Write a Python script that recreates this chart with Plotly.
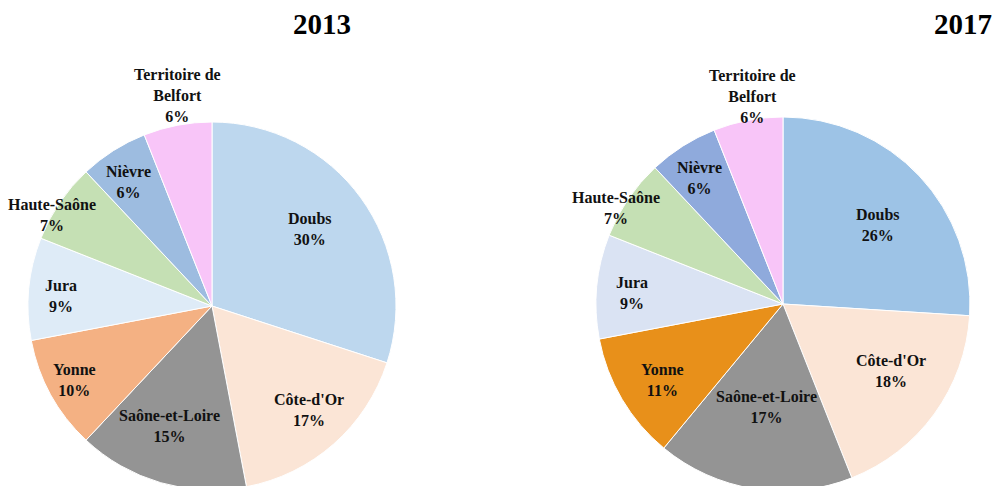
import math
import plotly.graph_objects as go

# ---- data ----
departements = ["Doubs", "Côte-d'Or", "Saône-et-Loire", "Yonne", "Jura",
                "Haute-Saône", "Nièvre", "Territoire de<br>Belfort"]
parts_2013 = [30, 17, 15, 10, 9, 7, 6, 6]
parts_2017 = [26, 18, 17, 11, 9, 7, 6, 6]
annees = ["2013", "2017"]

# ---- styles ----
colors_2013 = ["#BDD7EE", "#FBE5D6", "#949494", "#F4B183", "#DEEBF7",
               "#C5E0B4", "#9DBCE0", "#F8C5F8"]
colors_2017 = ["#9DC3E6", "#FBE5D6", "#949494", "#E8901A", "#DAE3F3",
               "#C5E0B4", "#8FAADC", "#F8C5F8"]
# label placement (fraction of radius, angular offset in degrees)
label_r_2013 = [0.68, 0.77, 0.69, 0.85, 0.82, 1.0, 0.81, 1.16]
label_a_2013 = [-2.2, -1.6, 3.2, 0.6, -1.6, -4.4, -1.6, 1.6]
label_r_2017 = [0.66, 0.68, 0.56, 0.76, 0.81, 1.03, 0.81, 1.12]
label_a_2017 = [3.2, -4.0, 0.0, -1.5, -1.4, -4.2, -1.1, 2.3]

W, H = 1000, 495
pies = [
    dict(vals=parts_2013, cols=colors_2013, lr=label_r_2013, la=label_a_2013,
         cx=212, cy=306, r=184, title=annees[0], tx=322),
    dict(vals=parts_2017, cols=colors_2017, lr=label_r_2017, la=label_a_2017,
         cx=783, cy=304, r=187, title=annees[1], tx=963),
]

FONT = "Liberation Serif"
fig = go.Figure()
annotations = []
for p in pies:
    cx, cy, r = p["cx"], p["cy"], p["r"]
    fig.add_trace(go.Pie(
        labels=departements, values=p["vals"], sort=False, direction="clockwise",
        rotation=0, textinfo="none", hoverinfo="label+percent",
        marker=dict(colors=p["cols"], line=dict(color="white", width=1)),
        domain=dict(x=[(cx - r) / W, (cx + r) / W],
                    y=[(H - cy - r) / H, (H - cy + r) / H]),
        showlegend=False,
    ))
    total = sum(p["vals"])
    cum = 0
    for name, v, f, da in zip(departements, p["vals"], p["lr"], p["la"]):
        mid = (cum + v / 2) / total * 2 * math.pi + math.radians(da)
        cum += v
        px = cx + f * r * math.sin(mid)
        py = cy - f * r * math.cos(mid)
        annotations.append(dict(
            x=px / W, y=(H - py) / H, xref="paper", yref="paper",
            text=f"{name}<br>{round(v / total * 100)}%", showarrow=False,
            xanchor="center", yanchor="middle",
            font=dict(family=FONT, size=16, color="#111111", weight="bold"),
        ))
    annotations.append(dict(
        x=p["tx"] / W, y=(H - 24) / H, xref="paper", yref="paper",
        text=p["title"], showarrow=False, xanchor="center", yanchor="middle",
        font=dict(family=FONT, size=29, color="black", weight="bold"),
    ))

fig.update_layout(
    width=W, height=H, margin=dict(l=0, r=0, t=0, b=0),
    paper_bgcolor="white", plot_bgcolor="white",
    annotations=annotations,
)

fig.write_html("out.html", config={"displayModeBar": False},
               post_script="document.body.style.margin='0';document.body.style.overflow='hidden';")
